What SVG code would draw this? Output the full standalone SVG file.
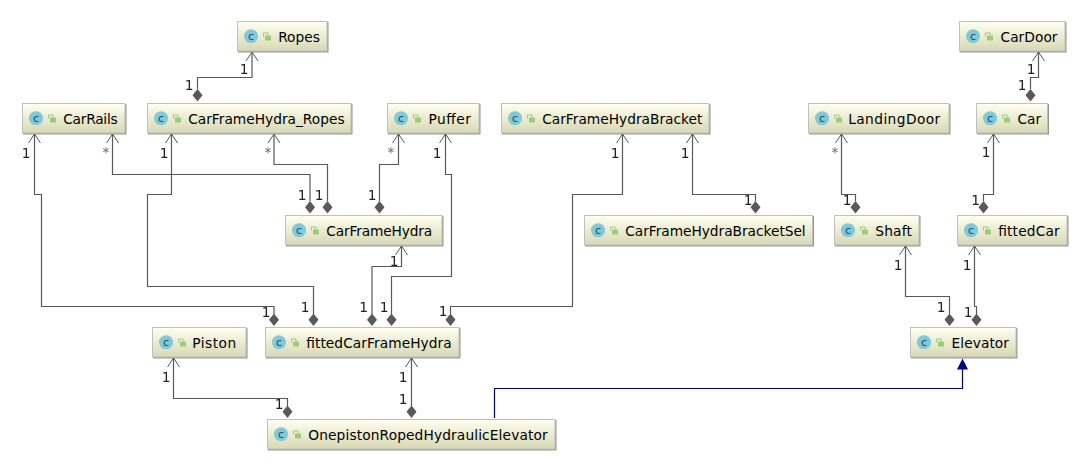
<svg xmlns="http://www.w3.org/2000/svg" width="1088" height="470" viewBox="0 0 1088 470">
<style>
.box{fill:url(#g);stroke:#c0c0c0;stroke-width:1;filter:url(#s)}
.ci{fill:#7fc9da}
.cl{font:11px "DejaVu Sans",sans-serif;fill:#1f4a5c;text-anchor:middle}
.lk{fill:#9bcb7c}
.sh{fill:none;stroke:#9bcb7c;stroke-width:1}
.t{font:13.75px "DejaVu Sans",sans-serif;fill:#000}
.l{fill:none;stroke:#595959;stroke-width:1.2}
.a{fill:none;stroke:#595959;stroke-width:1}
.d{fill:#595959}
.n{font:13.75px "DejaVu Sans",sans-serif;fill:#222;text-anchor:middle}
.st{fill:#666}
</style>
<defs>
<linearGradient id="g" x1="0" y1="0" x2="0" y2="1"><stop offset="0" stop-color="#fffff0"/><stop offset="1" stop-color="#d8d8b4"/></linearGradient>
<filter id="s" x="-5%" y="-10%" width="110%" height="125%"><feDropShadow dx="1" dy="1" stdDeviation=".4" flood-color="#777" flood-opacity=".8"/></filter>
<g id="ic"><circle class="ci" cx="13.500" cy="14.800" r="7"/><text class="cl" x="13.500" y="18.300">c</text><rect class="lk" x="27.500" y="14" width="6" height="5"/><path class="sh" d="M26 15V11.500H30.500V14"/></g>
<path id="dm" class="d" d="M0 -12.500L5 -6.200L0 0L-5 -6.200Z"/>
<path id="ar" class="a" d="M-6 9L0 0L6 9"/>
</defs>
<g id="connectors" opacity=".999">
<path class="l" d="M252 52V77.500H197.500V89"/>
<path class="l" d="M34.500 134V194.500H41.500V306.500H274V314"/>
<path class="l" d="M112.500 134V174.500H310V201"/>
<path class="l" d="M171.500 134V194.500H147.500V286.500H313.500V314"/>
<path class="l" d="M274 134V164.500H327.500V201"/>
<path class="l" d="M398.500 134V164.500H379.500V201"/>
<path class="l" d="M401.500 246V266.500H372V314"/>
<path class="l" d="M445.500 134V174.500H451.500V276.500H391.500V314"/>
<path class="l" d="M622.500 134V194.500H572.500V306.500H450.500V314"/>
<path class="l" d="M692.500 134V194.500H755.500V201"/>
<path class="l" d="M841.500 134V194.500H855.500V201"/>
<path class="l" d="M993.500 134V194.500H983.500V201"/>
<path class="l" d="M1038.500 52V77.500H1030.500V89"/>
<path class="l" d="M905.500 246V296.500H949.500V314"/>
<path class="l" d="M974.500 246V306.500H976.500V314"/>
<path class="l" d="M173.500 358V398.500H287.500V406"/>
<path class="l" d="M411.500 358V406"/>
<path d="M494.500 418V388.500H962.500V368" fill="none" stroke="#000080" stroke-width="1.200"/>
<path fill="#000080" d="M962.500 358.500L968 369.500H957Z"/>
<use href="#ar" x="252" y="52"/><use href="#ar" x="34.500" y="134"/><use href="#ar" x="112.500" y="134"/><use href="#ar" x="171.500" y="134"/><use href="#ar" x="274" y="134"/><use href="#ar" x="398.500" y="134"/><use href="#ar" x="401.500" y="246"/><use href="#ar" x="445.500" y="134"/><use href="#ar" x="622.500" y="134"/><use href="#ar" x="692.500" y="134"/><use href="#ar" x="841.500" y="134"/><use href="#ar" x="993.500" y="134"/><use href="#ar" x="1038.500" y="52"/><use href="#ar" x="905.500" y="246"/><use href="#ar" x="974.500" y="246"/><use href="#ar" x="173.500" y="358"/><use href="#ar" x="411.500" y="358"/>
<use href="#dm" x="197.500" y="101.500"/><use href="#dm" x="310" y="213.500"/><use href="#dm" x="327.500" y="213.500"/><use href="#dm" x="379.500" y="213.500"/><use href="#dm" x="274" y="326"/><use href="#dm" x="313.500" y="326"/><use href="#dm" x="372" y="326"/><use href="#dm" x="391.500" y="326"/><use href="#dm" x="450.500" y="326"/><use href="#dm" x="755.500" y="213.500"/><use href="#dm" x="855.500" y="213.500"/><use href="#dm" x="983.500" y="213.500"/><use href="#dm" x="1030.500" y="101.500"/><use href="#dm" x="949.500" y="326"/><use href="#dm" x="976.500" y="326"/><use href="#dm" x="287.500" y="418"/><use href="#dm" x="411.500" y="418"/>
<text class="n" x="244" y="74">1</text><text class="n" x="189" y="89.500">1</text>
<text class="n" x="26" y="157.500">1</text><text class="n st" x="106" y="157">*</text><text class="n" x="164" y="157.500">1</text><text class="n st" x="268" y="157">*</text><text class="n" x="302" y="199.500">1</text><text class="n" x="319" y="199.500">1</text>
<text class="n st" x="391" y="157">*</text><text class="n" x="372" y="199.500">1</text><text class="n" x="437" y="157.500">1</text><text class="n" x="615" y="157.500">1</text><text class="n" x="685" y="157.500">1</text><text class="n" x="748" y="204.500">1</text>
<text class="n st" x="835" y="157">*</text><text class="n" x="847" y="205">1</text><text class="n" x="986" y="157">1</text><text class="n" x="975.500" y="204.500">1</text><text class="n" x="1031" y="73.500">1</text><text class="n" x="1022" y="89.500">1</text>
<text class="n" x="394" y="265.500">1</text><text class="n" x="266" y="316.500">1</text><text class="n" x="305" y="311.500">1</text><text class="n" x="363.500" y="311.500">1</text><text class="n" x="384" y="311.500">1</text><text class="n" x="443" y="316">1</text>
<text class="n" x="898" y="269.500">1</text><text class="n" x="967" y="269.500">1</text><text class="n" x="941" y="311.500">1</text><text class="n" x="968" y="316.500">1</text>
<text class="n" x="166" y="381.500">1</text><text class="n" x="403" y="381.500">1</text><text class="n" x="403" y="403.500">1</text><text class="n" x="279" y="408.500">1</text>
</g>
<g id="Ropes"><rect class="box" x="237.500" y="21.500" width="89.500" height="29.500"/><use href="#ic" x="237.500" y="21.500"/><text class="t" x="278.200" y="41.500">Ropes</text></g>
<g id="CarDoor"><rect class="box" x="959.500" y="21.500" width="105.500" height="29.500"/><use href="#ic" x="959.500" y="21.500"/><text class="t" x="1000.500" y="41.500" textLength="57">CarDoor</text></g>
<g id="CarRails"><rect class="box" x="22.500" y="103.500" width="102.500" height="29.500"/><use href="#ic" x="22.500" y="103.500"/><text class="t" x="63.200" y="123.500" textLength="54.500">CarRails</text></g>
<g id="CarFrameHydra_Ropes"><rect class="box" x="147.500" y="103.500" width="203.500" height="29.500"/><use href="#ic" x="147.500" y="103.500"/><text class="t" x="188.200" y="123.500">CarFrameHydra_Ropes</text></g>
<g id="Puffer"><rect class="box" x="387.500" y="103.500" width="91.500" height="29.500"/><use href="#ic" x="387.500" y="103.500"/><text class="t" x="428.500" y="123.500" textLength="42.500">Puffer</text></g>
<g id="CarFrameHydraBracket"><rect class="box" x="501.500" y="103.500" width="207.500" height="29.500"/><use href="#ic" x="501.500" y="103.500"/><text class="t" x="542.200" y="123.500">CarFrameHydraBracket</text></g>
<g id="LandingDoor"><rect class="box" x="808.500" y="103.500" width="140.500" height="29.500"/><use href="#ic" x="808.500" y="103.500"/><text class="t" x="848.200" y="123.500" textLength="92">LandingDoor</text></g>
<g id="Car"><rect class="box" x="976.500" y="103.500" width="71" height="29.500"/><use href="#ic" x="976.500" y="103.500"/><text class="t" x="1017.500" y="123.500">Car</text></g>
<g id="CarFrameHydra"><rect class="box" x="285.500" y="215.500" width="156.500" height="29.500"/><use href="#ic" x="285.500" y="215.500"/><text class="t" x="326.200" y="235.500" textLength="106">CarFrameHydra</text></g>
<g id="CarFrameHydraBracketSel"><rect class="box" x="584.500" y="215.500" width="228" height="29.500"/><use href="#ic" x="584.500" y="215.500"/><text class="t" x="625.200" y="235.500" textLength="180.500">CarFrameHydraBracketSel</text></g>
<g id="Shaft"><rect class="box" x="834.500" y="215.500" width="84.500" height="29.500"/><use href="#ic" x="834.500" y="215.500"/><text class="t" x="875.200" y="235.500" textLength="36.800">Shaft</text></g>
<g id="fittedCar"><rect class="box" x="957.500" y="215.500" width="109.500" height="29.500"/><use href="#ic" x="957.500" y="215.500"/><text class="t" x="998.200" y="235.500" textLength="61.500">fittedCar</text></g>
<g id="Piston"><rect class="box" x="152.500" y="327.500" width="93.500" height="29.500"/><use href="#ic" x="152.500" y="327.500"/><text class="t" x="192.200" y="347.500" textLength="44">Piston</text></g>
<g id="fittedCarFrameHydra"><rect class="box" x="265.500" y="327.500" width="193.500" height="29.500"/><use href="#ic" x="265.500" y="327.500"/><text class="t" x="306.200" y="347.500" textLength="145.500">fittedCarFrameHydra</text></g>
<g id="Elevator"><rect class="box" x="910.500" y="327.500" width="105.500" height="29.500"/><use href="#ic" x="910.500" y="327.500"/><text class="t" x="951.500" y="347.500" textLength="57.500">Elevator</text></g>
<g id="OnepistonRopedHydraulicElevator"><rect class="box" x="267.500" y="419.500" width="287.500" height="29.500"/><use href="#ic" x="267.500" y="419.500"/><text class="t" x="308.200" y="439.500" textLength="239.500">OnepistonRopedHydraulicElevator</text></g>
</svg>
